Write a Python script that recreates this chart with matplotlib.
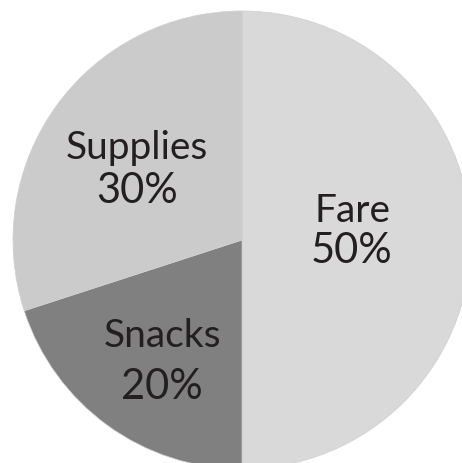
import matplotlib
matplotlib.use("Agg")
import matplotlib.pyplot as plt

categories = ["Fare", "Snacks", "Supplies"]
shares = [50, 20, 30]
colors = ["#d9d9d9", "#7f807f", "#cbcbcb"]

# pie geometry in pixels (center and radius)
CX, CY, R = 242.0, 241.0, 229.0
W, H = 462, 464

# label placement: (center x, name baseline y, percent baseline y) in pixels
label_px = {
    "Fare": (352, 222, 263),
    "Snacks": (162, 347, 399),
    "Supplies": (137, 159, 203),
}


def to_data(px, py):
    return (px - CX) / R, (CY - py) / R


fig = plt.figure(figsize=(W / 100, H / 100), dpi=100)
ax = fig.add_axes([0, 0, 1, 1])
ax.pie(shares, colors=colors, startangle=90, counterclock=False,
       radius=1.0, center=(0, 0),
       wedgeprops=dict(linewidth=0.5, edgecolor="#cfcfcf"))

for name, val in zip(categories, shares):
    px, b1, b2 = label_px[name]
    x1, y1 = to_data(px, b1)
    x2, y2 = to_data(px, b2)
    kw = dict(ha="center", va="baseline", family="Lato", color="#231f20",
              fontweight="normal")
    ax.text(x1, y1, name, fontsize=28, **kw)
    ax.text(x2, y2, f"{val}%", fontsize=30, **kw)

ax.set_xlim(-CX / R, (W - CX) / R)
ax.set_ylim(-(H - CY) / R, CY / R)
ax.set_aspect("auto")
ax.axis("off")
fig.savefig("out.png", dpi=100, facecolor="white")
